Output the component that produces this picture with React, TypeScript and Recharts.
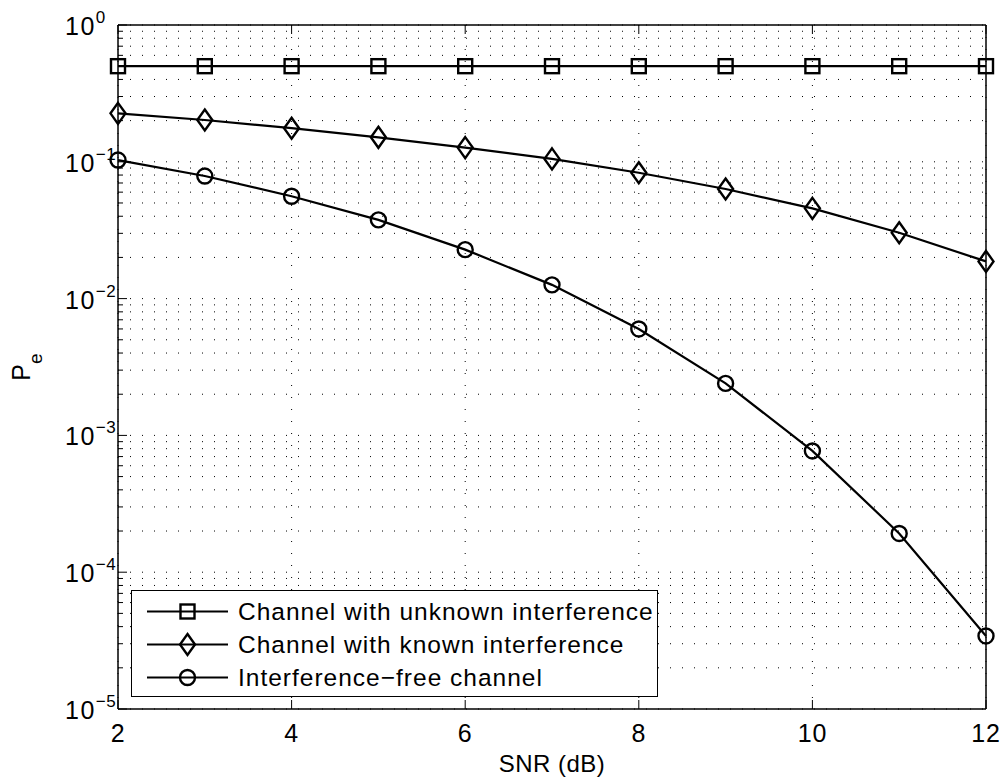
import React from 'react'
import { CartesianGrid, Legend, Line, LineChart, XAxis, YAxis } from 'recharts'

// SNR in dB on the x axis
const snr = [2, 3, 4, 5, 6, 7, 8, 9, 10, 11, 12]

// error probability
const unknownInterference = [0.5, 0.5, 0.5, 0.5, 0.5, 0.5, 0.5, 0.5, 0.5, 0.5, 0.5]
const knownInterference = [0.226, 0.202, 0.176, 0.151, 0.127, 0.105, 0.0832, 0.0633, 0.0457, 0.0303, 0.0187]
const interferenceFree = [0.103, 0.0787, 0.056, 0.0376, 0.0228, 0.0126, 0.006, 0.0024, 0.00077, 0.000192, 0.0000342]

const seriesKeys = ['unknown', 'known', 'free']
const seriesNames = [
  'Channel with unknown interference',
  'Channel with known interference',
  'Interference\u2212free channel',
]

const xTicks = [2, 4, 6, 8, 10, 12]
const decadeTicks = [1e-5, 1e-4, 1e-3, 1e-2, 1e-1, 1]
const minorSteps = [2, 3, 4, 5, 6, 7, 8, 9]

const yTicks = decadeTicks.flatMap((d, i) =>
  i < decadeTicks.length - 1 ? [d, ...minorSteps.map((m) => m * d)] : [d],
)

const data = snr.map((x, i) => ({
  snr: x,
  unknown: unknownInterference[i],
  known: knownInterference[i],
  free: interferenceFree[i],
}))

const FONT = '"Liberation Sans", Arial, Helvetica, sans-serif'
const INK = '#000'

const isDecade = (v: number) => {
  const e = Math.log10(v)
  return Math.abs(e - Math.round(e)) < 1e-6
}

const expLabel = (v: number) => {
  const e = Math.round(Math.log10(v))
  return e < 0 ? '\u2212' + Math.abs(e) : String(e)
}

function LeftTick({ x, y, payload }: any) {
  const major = isDecade(payload.value)
  return (
    <g>
      <line x1={x} x2={x + (major ? 9 : 5)} y1={y} y2={y} stroke={INK} strokeWidth={1} />
      {major && (
        <text x={x - 53} y={y + 10} fontSize={25} letterSpacing={1.5} fontFamily={FONT} fill={INK}>
          10
          <tspan dy={-12} fontSize={17} letterSpacing={0.5}>
            {expLabel(payload.value)}
          </tspan>
        </text>
      )}
    </g>
  )
}

function RightTick({ x, y, payload }: any) {
  const major = isDecade(payload.value)
  return <line x1={x} x2={x - (major ? 9 : 5)} y1={y} y2={y} stroke={INK} strokeWidth={1} />
}

function BottomTick({ x, y, payload }: any) {
  return (
    <g>
      <line x1={x} x2={x} y1={y} y2={y - 9} stroke={INK} strokeWidth={1} />
      <text x={x} y={y + 33} textAnchor="middle" fontSize={25} letterSpacing={0.8} fontFamily={FONT} fill={INK}>
        {payload.value}
      </text>
    </g>
  )
}

function TopTick({ x, y }: any) {
  return <line x1={x} x2={x} y1={y} y2={y + 9} stroke={INK} strokeWidth={1} />
}

function XTitle({ viewBox }: any) {
  return (
    <text
      x={viewBox.x + viewBox.width / 2}
      y={viewBox.y + 63}
      textAnchor="middle"
      fontSize={24}
      letterSpacing={0.5}
      fontFamily={FONT}
      fill={INK}
    >
      SNR (dB)
    </text>
  )
}

function YTitle({ viewBox }: any) {
  const cx = 30
  const cy = viewBox.y + viewBox.height / 2
  return (
    <text
      x={cx}
      y={cy}
      transform={`rotate(-90, ${cx}, ${cy})`}
      textAnchor="middle"
      fontSize={25}
      fontFamily={FONT}
      fill={INK}
    >
      P
      <tspan dy={12} fontSize={19}>
        e
      </tspan>
    </text>
  )
}

const squareMark = (cx: number, cy: number, key?: string) => (
  <rect key={key} x={cx - 7} y={cy - 7} width={14} height={14} fill="none" stroke={INK} strokeWidth={2.4} />
)

const diamondMark = (cx: number, cy: number, key?: string) => (
  <polygon
    key={key}
    points={`${cx},${cy - 10.5} ${cx + 7.5},${cy} ${cx},${cy + 10.5} ${cx - 7.5},${cy}`}
    fill="none"
    stroke={INK}
    strokeWidth={2.4}
  />
)

const circleMark = (cx: number, cy: number, key?: string) => (
  <circle key={key} cx={cx} cy={cy} r={7.5} fill="none" stroke={INK} strokeWidth={2.4} />
)

const markers: Record<string, (cx: number, cy: number, key?: string) => React.ReactElement> = {
  unknown: squareMark,
  known: diamondMark,
  free: circleMark,
}

function dotFor(dataKey: string) {
  return (p: any) => {
    if (p.cx == null || p.cy == null) return <g key={`${dataKey}-${p.index}`} />
    return markers[dataKey](p.cx, p.cy, `${dataKey}-${p.index}`)
  }
}

function LegendBox({ payload }: any) {
  const rows = [...(payload || [])].sort(
    (a: any, b: any) => seriesKeys.indexOf(a.dataKey) - seriesKeys.indexOf(b.dataKey),
  )
  return (
    <div
      style={{
        width: 527,
        height: 107,
        boxSizing: 'border-box',
        border: `1.5px solid ${INK}`,
        background: '#fff',
        paddingTop: 4,
        fontFamily: FONT,
      }}
    >
      {rows.map((entry: any) => (
        <div key={entry.dataKey} style={{ display: 'flex', alignItems: 'center', height: 33 }}>
          <svg width={101} height={33} style={{ display: 'block' }}>
            <line x1={15} x2={96} y1={16.5} y2={16.5} stroke={INK} strokeWidth={2.2} />
            {markers[entry.dataKey](55.5, 16.5)}
          </svg>
          <span style={{ fontSize: 24.5, marginLeft: 5, color: INK, letterSpacing: 1, whiteSpace: 'nowrap' }}>
            {entry.value}
          </span>
        </div>
      ))}
    </div>
  )
}

export default function App() {
  return (
    <div style={{ position: 'absolute', left: 0, top: 0, width: 1006, height: 784, background: '#fff' }}>
      <LineChart width={1006} height={784} data={data} margin={{ top: 0, right: 0, bottom: 0, left: 0 }}>
        <CartesianGrid
          xAxisId="bottom"
          yAxisId="left"
          stroke={INK}
          strokeWidth={1}
          strokeDasharray="1 11"
        />
        <XAxis
          xAxisId="bottom"
          dataKey="snr"
          type="number"
          domain={[2, 12]}
          ticks={xTicks}
          interval={0}
          height={75}
          tickSize={0}
          tickMargin={0}
          tickLine={false}
          tick={<BottomTick />}
          axisLine={{ stroke: INK, strokeWidth: 1.5 }}
          label={XTitle}
        />
        <XAxis
          xAxisId="top"
          orientation="top"
          dataKey="snr"
          type="number"
          domain={[2, 12]}
          ticks={xTicks}
          interval={0}
          height={25}
          tickSize={0}
          tickMargin={0}
          tickLine={false}
          tick={<TopTick />}
          axisLine={{ stroke: INK, strokeWidth: 1.5 }}
        />
        <YAxis
          yAxisId="left"
          type="number"
          scale="log"
          domain={[1e-5, 1]}
          ticks={yTicks}
          interval={0}
          width={118}
          tickSize={0}
          tickMargin={0}
          tickLine={false}
          tick={<LeftTick />}
          axisLine={{ stroke: INK, strokeWidth: 1.5 }}
          label={YTitle}
        />
        <YAxis
          yAxisId="right"
          orientation="right"
          type="number"
          scale="log"
          domain={[1e-5, 1]}
          ticks={yTicks}
          interval={0}
          width={20}
          tickSize={0}
          tickMargin={0}
          tickLine={false}
          tick={<RightTick />}
          axisLine={{ stroke: INK, strokeWidth: 1.5 }}
        />
        <Legend
          layout="vertical"
          align="center"
          verticalAlign="middle"
          content={<LegendBox />}
          wrapperStyle={{ left: 131, top: 590, width: 527, height: 107 }}
        />
        {seriesKeys.map((k, i) => (
          <Line
            key={k}
            xAxisId="bottom"
            yAxisId="left"
            type="linear"
            dataKey={k}
            name={seriesNames[i]}
            stroke={INK}
            strokeWidth={2.2}
            dot={dotFor(k)}
            activeDot={false}
            isAnimationActive={false}
          />
        ))}
      </LineChart>
    </div>
  )
}
